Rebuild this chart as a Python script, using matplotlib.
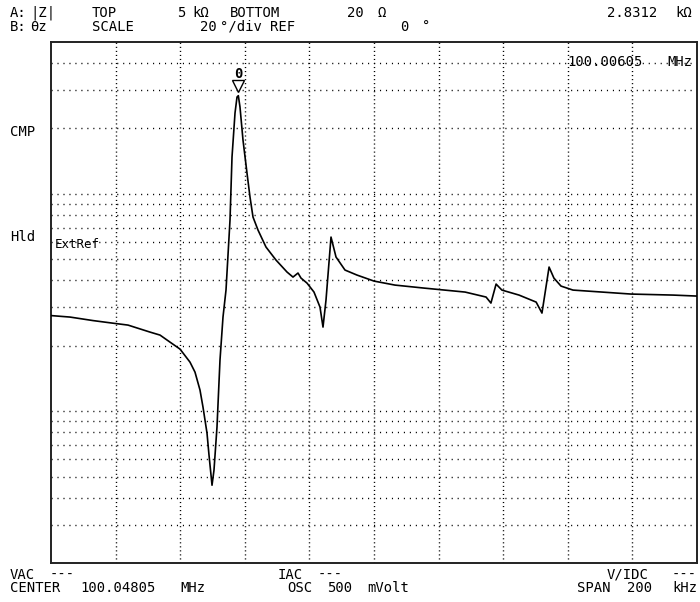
import matplotlib
matplotlib.use("Agg")
import matplotlib.pyplot as plt
from matplotlib import transforms

# ---- data ----
# frequency offset from CENTER (kHz), span 200 kHz
freq_offset_khz = [-100.0, -94.12, -87.0, -81.11, -76.16, -69.35, -66.25, -63.16, -60.06,
                   -56.97, -55.42, -53.87, -52.94, -51.70, -51.08, -50.46, -50.15, -49.54,
                   -48.61, -47.68, -46.75, -45.82, -44.58, -43.96, -43.03, -42.41, -42.0,
                   -41.49, -40.56, -39.32, -38.39, -37.46, -35.91, -33.44, -30.34, -26.93,
                   -25.08, -23.53, -22.60, -20.74, -18.58, -16.72, -15.79, -14.86, -13.31,
                   -11.76, -8.98, -5.26, 0.0, 6.5, 15.5, 28.2, 34.7, 36.2, 37.8, 39.6,
                   44.9, 50.2, 52.0, 54.2, 55.7, 57.9, 61.6, 70.6, 79.6, 92.6, 100.0]
impedance_ohm = [275.3, 271.0, 261.1, 254.3, 248.9, 231.1, 223.9, 207.8, 193.0,
                 168.1, 151.2, 125.0, 104.3, 79.2, 62.7, 50.8, 45.6, 53.5,
                 84.4, 171.8, 271.0, 360.7, 757.8, 1477, 2356, 2791, 2831.2,
                 2510, 1769, 1247, 966.9, 782.2, 681.3, 569.2, 495.8, 436.7,
                 414.0, 432.1, 409.6, 388.4, 353.2, 301.2, 243.7, 324.5, 632.6,
                 512.0, 446.0, 422.9, 396.8, 380.3, 368.4, 353.2, 335.0, 314.3, 384.4, 360.7,
                 342.1, 317.6, 282.7, 460.4, 409.6, 376.3, 360.7, 353.2, 345.8, 342.1, 338.5]
marker_offset_khz = -42.0
marker_value_ohm = 2831.2
y_bottom, y_top = 20, 5000
h_grid_levels = [30, 40, 50, 60, 70, 80, 90, 100, 200, 300, 400, 500, 600, 700, 800, 900,
                 1000, 2000, 3000, 4000]
v_grid_levels = [-80, -60, -40, -20, 0, 20, 40, 60, 80]

W, H = 700, 602
fig = plt.figure(figsize=(W / 100, H / 100), dpi=100)
fig.patch.set_facecolor("white")
L, R, T, B = 51, 697, 42, 563
ax = fig.add_axes([L / W, 1 - B / H, (R - L) / W, (B - T) / H])
ax.set_yscale("log")
ax.set_xlim(-100, 100)
ax.set_ylim(y_bottom, y_top)
ax.set_xticks([])
ax.set_yticks([])
ax.minorticks_off()
ax.yaxis.set_minor_locator(matplotlib.ticker.NullLocator())
for s in ax.spines.values():
    s.set_linewidth(1.4)
    s.set_color("#222222")

for lv in h_grid_levels:
    ax.axhline(lv, color="black", lw=1.0, linestyle=(0, (0.8, 3.5)), zorder=1)
for xv in v_grid_levels:
    ax.axvline(xv, color="black", lw=1.0, linestyle=(0, (0.8, 2.1)), zorder=1)

ax.plot(freq_offset_khz, impedance_ohm, color="black", lw=1.2, zorder=3)

mono = "DejaVu Sans Mono"
fs = 10

# marker
tri_tr = transforms.offset_copy(ax.transData, fig=fig, y=10, units="dots")
ax.plot([marker_offset_khz], [marker_value_ohm], marker="v", markersize=8,
        markerfacecolor="white", markeredgecolor="black", markeredgewidth=1.0,
        transform=tri_tr, zorder=4, clip_on=False)
lab_tr = transforms.offset_copy(ax.transData, fig=fig, y=22, units="dots")
ax.text(marker_offset_khz, marker_value_ohm, "0", transform=lab_tr, ha="center", va="center",
        fontsize=fs, family=mono, fontweight="bold", zorder=4)


def ftext(x, y, s, ha="left", size=fs):
    fig.text(x / W, 1 - y / H, s, ha=ha, va="center", fontsize=size, family=mono)


# header
ftext(10, 13, "A:")
ftext(30, 13, "|Z|")
ftext(92, 13, "TOP")
ftext(177, 13, "5")
ftext(192, 13, "kΩ")
ftext(230, 13, "BOTTOM")
ftext(347, 13, "20")
ftext(377, 13, "Ω")
ftext(607, 13, "2.8312")
ftext(692, 13, "kΩ", ha="right")
ftext(10, 27, "B:")
ftext(30, 27, "θz")
ftext(92, 27, "SCALE")
ftext(200, 27, "20")
ftext(220, 27, "°/div")
ftext(270, 27, "REF")
ftext(400, 27, "0")
ftext(422, 27, "°")

# left labels
ftext(10, 132, "CMP")
ftext(10, 237, "Hld")
ftext(55, 244, "ExtRef", size=9)

# marker readout
ftext(567, 62, "100.00605")
ftext(692, 62, "MHz", ha="right")

# footer
ftext(10, 575, "VAC")
ftext(50, 575, "---")
ftext(10, 588, "CENTER")
ftext(80, 588, "100.04805")
ftext(180, 588, "MHz")
ftext(278, 575, "IAC")
ftext(318, 575, "---")
ftext(287, 588, "OSC")
ftext(327, 588, "500")
ftext(367, 588, "mVolt")
ftext(607, 575, "V/IDC")
ftext(697, 575, "---", ha="right")
ftext(577, 588, "SPAN")
ftext(627, 588, "200")
ftext(697, 588, "kHz", ha="right")

fig.savefig("out.png", dpi=100, facecolor="white")
